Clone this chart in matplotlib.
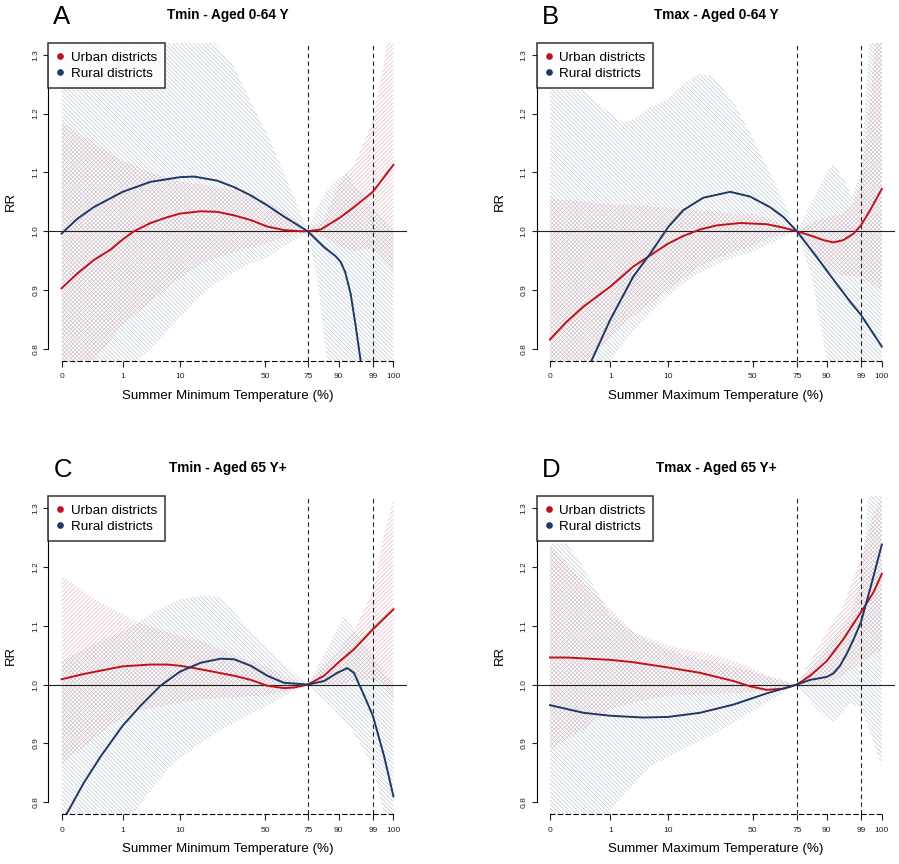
import matplotlib
matplotlib.use("Agg")
import matplotlib.pyplot as plt
from matplotlib.lines import Line2D

plt.rcParams["font.family"] = ["Liberation Sans", "DejaVu Sans"]
plt.rcParams["hatch.linewidth"] = 0.45

# x is the position along the temperature axis (0 = min, 100 = max of the axis)
TMIN_TICKS = [0, 18.4, 35.7, 61.3, 74.2, 83.5, 93.8, 100]
TMAX_TICKS = [0, 18.2, 35.6, 61.1, 74.4, 83.4, 93.7, 100]
PCT_LABELS = ["0", "1", "10", "50", "75", "90", "99", "100"]
RR_TICKS = [0.8, 0.9, 1.0, 1.1, 1.2, 1.3]

# --- A: Tmin, aged 0-64 ---
a_urban_x = [0, 4.7, 9.7, 14.8, 18.4, 21.8, 26.8, 31.9, 35.7, 41.9, 46.9, 52.0, 57.0, 62.0, 67.0, 72.1, 74.2, 78.1, 84.1, 88.1, 93.8, 100]
a_urban_rr = [0.903, 0.928, 0.951, 0.969, 0.986, 1.0, 1.014, 1.024, 1.030, 1.034, 1.033, 1.027, 1.019, 1.008, 1.002, 1.0, 1.0, 1.003, 1.024, 1.041, 1.067, 1.113]
a_urban_ci_x = [0, 9.7, 18.4, 26.8, 35.7, 42, 52, 62, 67, 74.2, 79, 83.5, 86, 88, 91, 93.8, 97, 100]
a_urban_lo = [0.70, 0.78, 0.84, 0.88, 0.92, 0.945, 0.965, 0.98, 0.99, 1.0, 0.99, 0.975, 0.97, 0.965, 0.97, 0.97, 0.95, 0.93]
a_urban_hi = [1.185, 1.15, 1.12, 1.10, 1.085, 1.08, 1.07, 1.05, 1.035, 1.0, 1.02, 1.08, 1.10, 1.11, 1.15, 1.19, 1.28, 1.40]
a_rural_x = [0, 4.7, 9.7, 18.4, 26.8, 35.7, 39.9, 46.9, 52.0, 57.0, 62.0, 67.0, 74.2, 79.1, 82.5, 84.1, 85.5, 87.1, 88.6, 90.1, 91.5]
a_rural_rr = [0.996, 1.021, 1.041, 1.067, 1.084, 1.092, 1.093, 1.086, 1.075, 1.061, 1.044, 1.025, 1.0, 0.973, 0.958, 0.948, 0.93, 0.894, 0.84, 0.781, 0.72]
a_rural_ci_x = [0, 10, 18.4, 22.8, 26.8, 35.7, 42, 46, 52, 57, 62, 67, 72, 74.2, 77, 80, 83.5, 86, 88, 91, 94, 97, 100]
a_rural_lo = [0.55, 0.62, 0.70, 0.78, 0.80, 0.855, 0.89, 0.91, 0.93, 0.945, 0.955, 0.975, 0.99, 1.0, 0.92, 0.78, 0.65, 0.60, 0.55, 0.50, 0.45, 0.40, 0.35]
a_rural_hi = [1.50, 1.50, 1.50, 1.48, 1.45, 1.40, 1.35, 1.32, 1.28, 1.22, 1.165, 1.10, 1.03, 1.0, 1.04, 1.07, 1.09, 1.10, 1.08, 1.06, 1.04, 1.02, 1.0]

# --- B: Tmax, aged 0-64 ---
b_urban_x = [0, 5.0, 10.1, 18.2, 25.1, 30.2, 35.6, 40.2, 45.2, 50.3, 57.3, 65.3, 70.4, 74.4, 78.4, 82.4, 85.4, 88.4, 91.5, 93.7, 96.5, 100]
b_urban_rr = [0.816, 0.846, 0.872, 0.906, 0.94, 0.959, 0.979, 0.992, 1.003, 1.010, 1.014, 1.012, 1.006, 1.0, 0.993, 0.985, 0.981, 0.985, 0.996, 1.01, 1.036, 1.072]
b_urban_ci_x = [0, 5, 12, 18.2, 25, 35.6, 45, 55, 61, 67, 74.4, 79, 83.4, 88.4, 91, 93.7, 97, 100]
b_urban_lo = [0.66, 0.72, 0.78, 0.82, 0.855, 0.90, 0.94, 0.965, 0.975, 0.99, 1.0, 0.965, 0.935, 0.925, 0.925, 0.92, 0.91, 0.90]
b_urban_hi = [1.055, 1.053, 1.05, 1.045, 1.045, 1.04, 1.036, 1.03, 1.03, 1.02, 1.0, 1.015, 1.025, 1.03, 1.045, 1.08, 1.25, 1.45]
b_rural_x = [8.0, 12.6, 18.1, 25.1, 30.2, 35.6, 40.2, 46.2, 54.3, 60.3, 66.3, 70.4, 74.4, 80.4, 85.4, 90.5, 93.7, 96.5, 100]
b_rural_rr = [0.71, 0.781, 0.849, 0.923, 0.962, 1.007, 1.036, 1.057, 1.067, 1.059, 1.041, 1.024, 1.0, 0.956, 0.918, 0.880, 0.858, 0.834, 0.804]
b_rural_ci_x = [0, 10, 18.2, 22, 25, 30, 35.6, 40, 45, 49, 55, 61, 67, 70.4, 74.4, 79, 83.4, 85.4, 88.4, 91, 93.7, 96.5, 100]
b_rural_lo = [0.50, 0.60, 0.78, 0.81, 0.83, 0.86, 0.89, 0.91, 0.93, 0.94, 0.955, 0.965, 0.98, 0.99, 1.0, 0.92, 0.78, 0.72, 0.66, 0.62, 0.60, 0.55, 0.50]
b_rural_hi = [1.24, 1.24, 1.20, 1.185, 1.19, 1.21, 1.225, 1.25, 1.267, 1.265, 1.222, 1.16, 1.09, 1.05, 1.0, 1.05, 1.10, 1.115, 1.09, 1.06, 1.10, 1.35, 1.50]

# --- C: Tmin, aged 65+ ---
c_urban_x = [0, 6.7, 18.4, 26.8, 31.9, 35.7, 41.9, 52.0, 57.0, 62.0, 67.0, 70.1, 74.2, 79.1, 83.5, 88.1, 93.8, 100]
c_urban_rr = [1.009, 1.018, 1.031, 1.034, 1.034, 1.032, 1.026, 1.015, 1.008, 0.998, 0.994, 0.995, 1.0, 1.015, 1.038, 1.06, 1.094, 1.128]
c_urban_ci_x = [0, 10, 18.4, 22.8, 35.7, 42, 52, 62, 67, 74.2, 79, 83.5, 88, 93.8, 97, 100]
c_urban_lo = [0.865, 0.91, 0.945, 0.955, 0.97, 0.975, 0.978, 0.982, 0.988, 1.0, 1.0, 1.0, 1.005, 1.01, 1.0, 0.975]
c_urban_hi = [1.185, 1.145, 1.12, 1.106, 1.083, 1.075, 1.05, 1.03, 1.015, 1.0, 1.03, 1.06, 1.09, 1.16, 1.25, 1.316]
c_rural_x = [0, 1.7, 6.7, 11.8, 18.4, 23.8, 29.8, 35.7, 41.9, 47.9, 52.0, 57.0, 62.0, 67.0, 74.2, 79.1, 83.1, 86.1, 88.1, 91.2, 93.8, 97.2, 100]
c_rural_rr = [0.77, 0.782, 0.833, 0.878, 0.93, 0.964, 0.998, 1.022, 1.037, 1.044, 1.043, 1.032, 1.015, 1.003, 1.0, 1.006, 1.02, 1.028, 1.02, 0.981, 0.947, 0.878, 0.81]
c_rural_ci_x = [0, 10, 18.4, 21.8, 26.8, 31.9, 35.7, 42, 47, 52, 57, 62, 67, 72, 74.2, 79, 82.1, 85.1, 88.1, 91, 93.8, 97.2, 100]
c_rural_lo = [0.50, 0.60, 0.72, 0.78, 0.82, 0.856, 0.875, 0.90, 0.92, 0.935, 0.95, 0.964, 0.98, 0.995, 1.0, 0.975, 0.958, 0.94, 0.918, 0.89, 0.861, 0.78, 0.70]
c_rural_hi = [1.04, 1.07, 1.09, 1.10, 1.12, 1.135, 1.145, 1.151, 1.15, 1.123, 1.09, 1.06, 1.035, 1.009, 1.0, 1.05, 1.083, 1.117, 1.094, 1.07, 1.05, 1.02, 1.0]

# --- D: Tmax, aged 65+ ---
d_urban_x = [0, 5.0, 18.2, 25.1, 35.6, 45.2, 55.3, 60.3, 65.3, 70.4, 74.4, 78.4, 83.4, 88.4, 93.7, 97.5, 100]
d_urban_rr = [1.046, 1.046, 1.042, 1.038, 1.029, 1.02, 1.006, 0.997, 0.991, 0.993, 1.0, 1.015, 1.04, 1.077, 1.123, 1.157, 1.188]
d_urban_ci_x = [0, 10.1, 18.2, 25.1, 35.6, 45, 50.3, 55.3, 60, 65.3, 74.4, 83.4, 88, 93.7, 97, 100]
d_urban_lo = [0.89, 0.924, 0.958, 0.97, 0.981, 0.983, 0.984, 0.985, 0.987, 0.99, 1.0, 0.998, 1.015, 1.038, 1.05, 1.06]
d_urban_hi = [1.236, 1.174, 1.128, 1.089, 1.066, 1.055, 1.049, 1.04, 1.03, 1.015, 1.0, 1.089, 1.13, 1.214, 1.28, 1.32]
d_rural_x = [0, 10.1, 18.2, 28.1, 35.6, 45.2, 55.3, 65.3, 74.4, 78.4, 83.4, 85.4, 87.4, 89.4, 91.5, 93.7, 96.5, 100]
d_rural_rr = [0.965, 0.952, 0.947, 0.944, 0.945, 0.952, 0.966, 0.985, 1.0, 1.008, 1.013, 1.019, 1.032, 1.052, 1.077, 1.106, 1.163, 1.238]
d_rural_ci_x = [0, 5, 10, 18.2, 25, 30.2, 40, 50.3, 65.3, 74.4, 80.4, 85.4, 90.5, 93.7, 96.5, 100]
d_rural_lo = [0.60, 0.65, 0.70, 0.787, 0.83, 0.861, 0.89, 0.918, 0.969, 1.0, 0.958, 0.935, 0.969, 0.96, 0.918, 0.861]
d_rural_hi = [1.24, 1.24, 1.20, 1.117, 1.09, 1.072, 1.05, 1.038, 1.015, 1.0, 1.038, 1.08, 1.117, 1.174, 1.35, 1.50]

URBAN = "#c0121c"
RURAL = "#1f3866"
URBAN_HATCH = "#ddb3b9"
RURAL_HATCH = "#b6c3d0"
INK = "#222222"

W, H = 899, 864


def px_rect(left, top, width, height):
    return [left / W, 1 - (top + height) / H, width / W, height / H]


def draw_panel(ax, letter, title, xlabel, ticks, urban, rural):
    ux, urr, ucx, ulo, uhi = urban
    rx, rrr, rcx, rlo, rhi = rural

    ax.fill_between(rcx, rlo, rhi, facecolor="none", edgecolor=RURAL_HATCH,
                    hatch="\\" * 8, linewidth=0)
    ax.fill_between(ucx, ulo, uhi, facecolor="none", edgecolor=URBAN_HATCH,
                    hatch="/" * 8, linewidth=0)

    ax.axhline(1.0, color=INK, lw=0.8)
    for t in (ticks[4], ticks[6]):
        ax.axvline(t, color=INK, lw=0.8, ls=(0, (4, 3)))

    ax.plot(ux, urr, color=URBAN, lw=1.4)
    ax.plot(rx, rrr, color=RURAL, lw=1.4)

    ax.set_xlim(-4, 104)
    ax.set_ylim(0.78, 1.32)

    for side in ("top", "right"):
        ax.spines[side].set_visible(False)
    ax.spines["left"].set_bounds(0.8, 1.3)
    ax.spines["left"].set_linewidth(0.8)
    ax.spines["bottom"].set_bounds(0, 100)
    ax.spines["bottom"].set_linewidth(0.8)
    ax.spines["bottom"].set_linestyle((0, (4, 3)))

    ax.set_yticks(RR_TICKS)
    ax.set_yticklabels([f"{v:.1f}" for v in RR_TICKS], rotation=90, va="center")
    ax.set_xticks(ticks)
    ax.set_xticklabels(PCT_LABELS)
    ax.tick_params(axis="y", length=3.6, width=0.8, labelsize=6, pad=3, colors=INK)
    ax.tick_params(axis="x", length=4, width=0.8, labelsize=6, pad=5, colors=INK)

    ax.set_xlabel(xlabel, fontsize=9.6, va="center")
    ax.xaxis.set_label_coords(0.5, -0.110)
    ax.set_ylabel("RR", fontsize=9.4, va="center")
    ax.yaxis.set_label_coords(-0.104, 0.5)

    ax.text(0.5, 1.088, title, transform=ax.transAxes, ha="center", va="center",
            fontsize=9.8, fontweight="bold")
    ax.text(0.014, 1.082, letter, transform=ax.transAxes, ha="left", va="center",
            fontsize=18.5)

    handles = [
        Line2D([], [], ls="none", marker="o", ms=3.8, color=URBAN),
        Line2D([], [], ls="none", marker="o", ms=3.8, color=RURAL),
    ]
    leg = ax.legend(handles, ["Urban districts", "Rural districts"], loc="upper left",
                    bbox_to_anchor=(0, 1), borderaxespad=0, fontsize=9.7,
                    fancybox=False, handlelength=0.6, handletextpad=0.45,
                    borderpad=0.6, labelspacing=0.27)
    leg.get_frame().set_edgecolor("black")
    leg.get_frame().set_linewidth(1.1)


def main():
    fig = plt.figure(figsize=(W / 100, H / 100), dpi=100)

    ax_a = fig.add_axes(px_rect(48.3, 43, 358.4, 317.7))
    ax_b = fig.add_axes(px_rect(536.7, 43, 358.4, 317.7))
    ax_c = fig.add_axes(px_rect(48.3, 496.3, 358.4, 317.7))
    ax_d = fig.add_axes(px_rect(536.7, 496.3, 358.4, 317.7))

    draw_panel(ax_a, "A", "Tmin - Aged 0-64 Y", "Summer Minimum Temperature (%)", TMIN_TICKS,
               (a_urban_x, a_urban_rr, a_urban_ci_x, a_urban_lo, a_urban_hi),
               (a_rural_x, a_rural_rr, a_rural_ci_x, a_rural_lo, a_rural_hi))
    draw_panel(ax_b, "B", "Tmax - Aged 0-64 Y", "Summer Maximum Temperature (%)", TMAX_TICKS,
               (b_urban_x, b_urban_rr, b_urban_ci_x, b_urban_lo, b_urban_hi),
               (b_rural_x, b_rural_rr, b_rural_ci_x, b_rural_lo, b_rural_hi))
    draw_panel(ax_c, "C", "Tmin - Aged 65 Y+", "Summer Minimum Temperature (%)", TMIN_TICKS,
               (c_urban_x, c_urban_rr, c_urban_ci_x, c_urban_lo, c_urban_hi),
               (c_rural_x, c_rural_rr, c_rural_ci_x, c_rural_lo, c_rural_hi))
    draw_panel(ax_d, "D", "Tmax - Aged 65 Y+", "Summer Maximum Temperature (%)", TMAX_TICKS,
               (d_urban_x, d_urban_rr, d_urban_ci_x, d_urban_lo, d_urban_hi),
               (d_rural_x, d_rural_rr, d_rural_ci_x, d_rural_lo, d_rural_hi))

    fig.savefig("out.png", dpi=100)
    plt.close(fig)


if __name__ == "__main__":
    main()
